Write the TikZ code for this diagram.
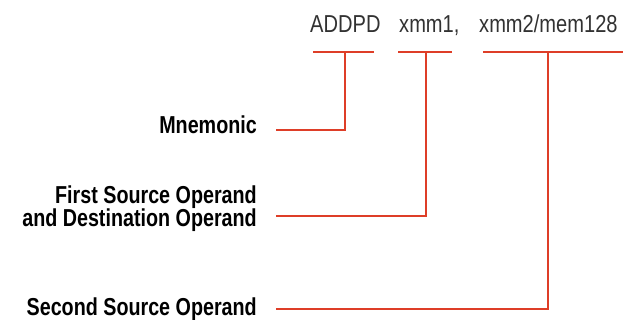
\documentclass[tikz,border=0pt]{standalone}
\usepackage{fontspec}
\newfontfamily\topfont[FakeStretch=0.82]{Liberation Sans}
\newfontfamily\labfont[FakeStretch=0.805]{Liberation Sans Bold}
\definecolor{redline}{RGB}{222,62,40}
\definecolor{topgray}{RGB}{50,50,50}
\tikzset{
  wordtext/.style={font=\topfont\fontsize{24.5}{28}\selectfont, text=topgray, inner sep=0pt, anchor=base west},
  labeltext/.style={font=\labfont\fontsize{24.5}{23}\selectfont, text=black, inner sep=0pt, align=right},
  conn/.style={draw=redline, line width=2.6pt},
}
\begin{document}
\begin{tikzpicture}[x=1pt,y=-1pt]
\useasboundingbox (0,0) rectangle (629,320);
% top instruction
\node[wordtext] (op) at (310,33) {ADDPD};
\node[wordtext] (d1) at (399,33) {xmm1,};
\node[wordtext] (s2) at (479,33) {xmm2/mem128};
% bars
\coordinate (opL) at (313,52); \coordinate (opR) at (374,52); \coordinate (opM) at (345,52);
\coordinate (d1L) at (398,52); \coordinate (d1R) at (452,52); \coordinate (d1M) at (426,52);
\coordinate (s2L) at (483,52); \coordinate (s2R) at (623,52); \coordinate (s2M) at (548,52);
\draw[conn] (opL) -- (opR);
\draw[conn] (d1L) -- (d1R);
\draw[conn] (s2L) -- (s2R);
% labels
\node[labeltext, anchor=base east] (mn) at (257,134) {Mnemonic};
\node[labeltext, anchor=base east] (fs) at (257,227) {First Source Operand\\and Destination Operand};
\node[labeltext, anchor=base east] (ss) at (257,316) {Second Source Operand};
% connector start points
\coordinate (mnS) at (276,130);
\coordinate (fsS) at (276,216);
\coordinate (ssS) at (276,309);
\draw[conn] (mnS) -| (opM);
\draw[conn] (fsS) -| (d1M);
\draw[conn] (ssS) -| (s2M);
\end{tikzpicture}
\end{document}
